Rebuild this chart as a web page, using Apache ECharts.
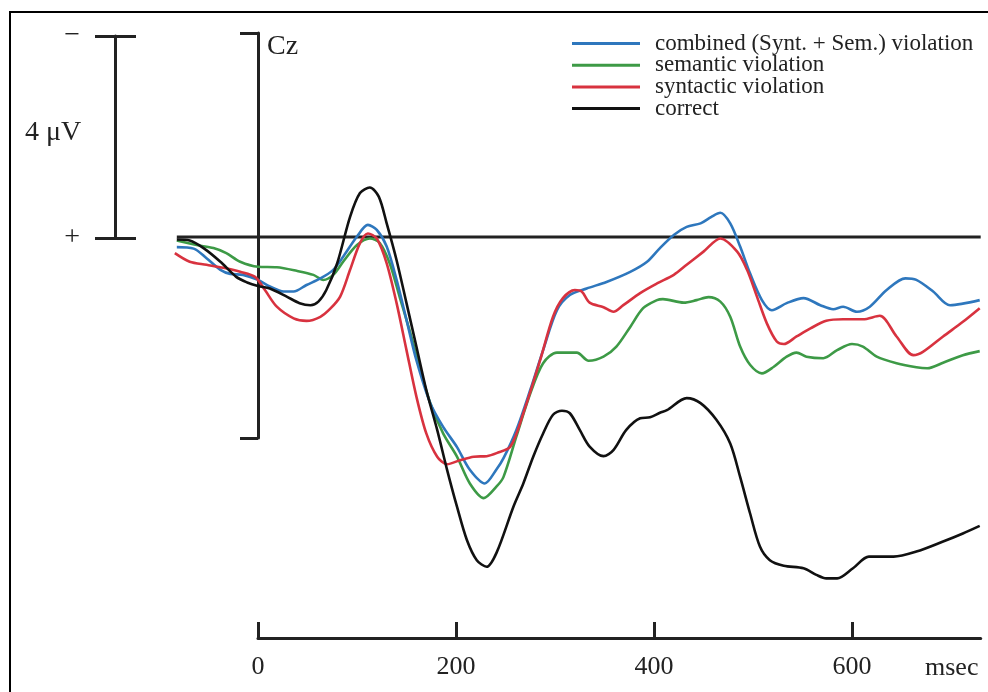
<!DOCTYPE html>
<html>
<head>
<meta charset="utf-8">
<script src="https://cdn.jsdelivr.net/npm/echarts@6/dist/echarts.min.js"></script>
<style>
html,body{margin:0;padding:0;background:#fff;}
#chart{width:988px;height:692px;}
</style>
</head>
<body>
<div id="chart"></div>
<script>
// time (ms) / amplitude (µV, negative plotted up)
const combined = [[-82,0.20],[-65,0.23],[-52,0.42],[-38,0.65],[-28,0.73],[-15,0.75],[0,0.85],[12,0.98],[26,1.08],[36,1.08],[49,0.95],[63,0.82],[76,0.65],[86,0.39],[100,-0.01],[111,-0.24],[120,-0.14],[130,0.19],[140,0.85],[150,1.64],[160,2.44],[174,3.29],[187,3.76],[201,4.16],[214,4.61],[229,4.88],[241,4.6],[248,4.38],[261,3.82],[275,3.03],[288,2.24],[302,1.45],[315,1.15],[332,1.02],[352,0.89],[376,0.69],[393,0.49],[406,0.22],[420,-0.04],[433,-0.20],[447,-0.27],[458,-0.40],[467,-0.48],[477,-0.27],[487,0.19],[497,0.72],[509,1.25],[519,1.45],[534,1.31],[551,1.21],[568,1.35],[581,1.43],[591,1.38],[605,1.48],[618,1.38],[635,1.05],[654,0.82],[665,0.85],[682,1.08],[699,1.35],[729,1.25]];
const semantic = [[-82,0.07],[-62,0.16],[-45,0.22],[-32,0.32],[-18,0.49],[0,0.59],[19,0.60],[39,0.67],[56,0.75],[66,0.85],[76,0.75],[86,0.49],[100,0.16],[113,0.03],[123,0.12],[133,0.52],[143,1.18],[154,1.91],[164,2.63],[174,3.29],[187,3.89],[201,4.35],[214,4.88],[228,5.17],[241,4.94],[248,4.75],[261,3.95],[275,3.10],[288,2.50],[302,2.29],[322,2.29],[334,2.45],[349,2.37],[362,2.17],[376,1.78],[389,1.41],[403,1.25],[409,1.23],[430,1.30],[443,1.25],[455,1.19],[467,1.28],[477,1.58],[487,2.17],[497,2.53],[509,2.70],[521,2.57],[534,2.37],[544,2.29],[554,2.37],[571,2.40],[585,2.24],[600,2.12],[611,2.17],[625,2.37],[645,2.50],[665,2.58],[676,2.60],[692,2.49],[712,2.34],[729,2.26]];
const syntactic = [[-84,0.32],[-69,0.49],[-52,0.55],[-35,0.61],[-18,0.69],[-3,0.79],[7,1.05],[19,1.38],[36,1.61],[49,1.66],[63,1.58],[73,1.42],[83,1.18],[93,0.65],[103,0.12],[111,-0.07],[120,0.03],[130,0.52],[140,1.31],[150,2.24],[160,3.16],[170,3.89],[181,4.35],[191,4.50],[204,4.42],[218,4.35],[231,4.34],[241,4.28],[255,4.15],[268,3.49],[285,2.44],[298,1.58],[308,1.21],[320,1.05],[327,1.08],[335,1.30],[349,1.39],[359,1.48],[369,1.35],[386,1.11],[403,0.92],[420,0.75],[433,0.55],[450,0.29],[467,0.03],[484,0.29],[494,0.65],[504,1.18],[514,1.71],[524,2.07],[531,2.12],[544,1.97],[558,1.81],[574,1.66],[591,1.63],[611,1.63],[628,1.56],[645,1.97],[662,2.34],[672,2.27],[692,1.97],[712,1.68],[729,1.41]];
const correct = [[-82,0.05],[-69,0.07],[-55,0.22],[-38,0.49],[-22,0.79],[-11,0.90],[0,0.97],[12,1.02],[29,1.18],[42,1.31],[53,1.35],[61,1.28],[69,1.05],[80,0.52],[93,-0.40],[103,-0.87],[113,-0.98],[122,-0.80],[130,-0.27],[140,0.46],[150,1.31],[160,2.17],[170,3.03],[181,3.82],[191,4.61],[201,5.34],[211,6.0],[221,6.40],[231,6.53],[241,6.25],[258,5.34],[268,4.88],[278,4.35],[288,3.89],[298,3.52],[307,3.44],[315,3.49],[325,3.82],[335,4.15],[349,4.34],[359,4.22],[372,3.82],[386,3.59],[396,3.57],[406,3.48],[413,3.43],[433,3.19],[447,3.29],[463,3.62],[477,4.09],[487,4.75],[497,5.47],[507,6.13],[517,6.40],[531,6.51],[551,6.56],[564,6.69],[574,6.76],[585,6.76],[601,6.56],[617,6.33],[642,6.33],[665,6.23],[692,6.03],[712,5.87],[729,5.72]];
const baseline = [[-82,0],[730,0]];
const seriesNames = ['combined (Synt. + Sem.) violation','semantic violation','syntactic violation','correct'];
const timeTicks = [0,200,400,600];
const czTicks = [-4,4];
const scaleTicks = [-4,0];

const SERIF = '"Liberation Serif","DejaVu Serif",serif';
const INK = '#222';
const chart = echarts.init(document.getElementById('chart'));
const hidden = {show:false};
function line(name, data, color, z){
  return {name, type:'line', xAxisIndex:0, yAxisIndex:0, data, showSymbol:false, smooth:0.3,
    lineStyle:{color, width:2.6}, itemStyle:{color}, z};
}
chart.setOption({
  animation:false,
  backgroundColor:'#fff',
  grid:[
    {left:159, top:35, width:821.7, height:606},   // data
    {left:258, top:33, width:1, height:405},       // Cz bracket
    {left:115, top:36, width:1, height:202},       // 4 µV scale bar
    {left:258, top:600, width:722.7, height:38}    // time axis
  ],
  xAxis:[
    {type:'value', gridIndex:0, min:-100, max:730, show:false},
    {type:'value', gridIndex:1, min:0, max:1, show:false},
    {type:'value', gridIndex:2, min:0, max:1, show:false},
    {type:'value', gridIndex:3, min:0, max:730, position:'bottom',
      axisLine:{show:true, lineStyle:{color:INK, width:3}},
      axisTick:{show:true, inside:true, length:16, customValues:timeTicks, lineStyle:{color:INK, width:3}},
      axisLabel:{show:true, customValues:timeTicks, margin:16, fontSize:26, fontFamily:SERIF, color:INK},
      splitLine:hidden}
  ],
  yAxis:[
    {type:'value', gridIndex:0, min:-4, max:8, inverse:true, show:false},
    {type:'value', gridIndex:1, min:-4, max:4, inverse:true, position:'left',
      axisLine:{show:true, onZero:false, lineStyle:{color:INK, width:3}},
      axisTick:{show:true, inside:false, length:18, customValues:czTicks, lineStyle:{color:INK, width:3}},
      axisLabel:hidden, splitLine:hidden},
    {type:'value', gridIndex:2, min:-4, max:0, inverse:true, position:'left',
      axisLine:{show:true, onZero:false, lineStyle:{color:INK, width:3}},
      axisTick:{show:true, inside:false, length:20, customValues:scaleTicks, lineStyle:{color:INK, width:3}},
      axisLabel:{show:true, customValues:scaleTicks, margin:35, fontSize:28, fontFamily:SERIF, color:INK,
        formatter:v => v < 0 ? '\u2212' : '+'},
      splitLine:hidden},
    {type:'value', gridIndex:2, min:-4, max:0, inverse:true, position:'left',
      axisLine:{show:false, onZero:false},
      axisTick:{show:true, inside:true, length:21, customValues:scaleTicks, lineStyle:{color:INK, width:3}},
      axisLabel:hidden, splitLine:hidden},
    {type:'value', gridIndex:3, show:false}
  ],
  legend:{
    orient:'vertical', left:572, top:32, padding:0, itemWidth:68, itemHeight:3, itemGap:-1.3, icon:'rect',
    data:seriesNames,
    textStyle:{fontFamily:SERIF, fontSize:23, color:INK, lineHeight:21, padding:[0,0,0,10]}
  },
  series:[
    {name:'zero', type:'line', xAxisIndex:0, yAxisIndex:0, data:baseline, showSymbol:false,
      lineStyle:{color:INK, width:3}, z:1, silent:true},
    line(seriesNames[1], semantic, '#3d9a46', 3),
    line(seriesNames[0], combined, '#2e77bd', 4),
    line(seriesNames[2], syntactic, '#d8323f', 5),
    line(seriesNames[3], correct, '#111111', 6)
  ],
  graphic:[
    {type:'rect', shape:{x:10, y:12, width:1000, height:700}, style:{fill:null, stroke:'#000', lineWidth:2}, silent:true},
    {type:'text', x:267, y:47, style:{text:'Cz', font:'28px '+SERIF, fill:INK, verticalAlign:'middle'}},
    {type:'text', x:25, y:133, style:{text:'4 \u03bcV', font:'28px '+SERIF, fill:INK, verticalAlign:'middle'}},
    {type:'text', x:925, y:668, style:{text:'msec', font:'26px '+SERIF, fill:INK, verticalAlign:'middle'}}
  ]
});
</script>
</body>
</html>
